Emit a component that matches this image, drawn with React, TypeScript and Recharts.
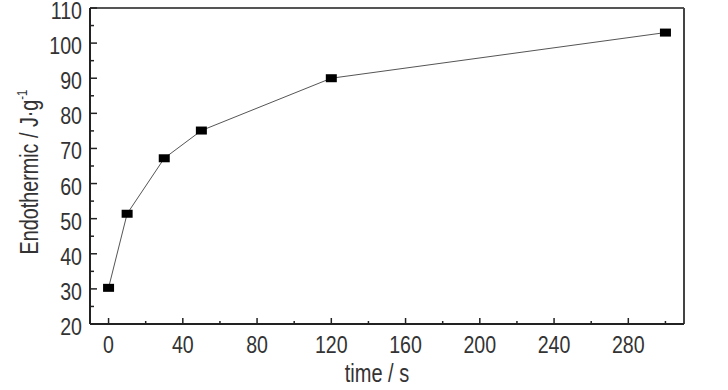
import React from 'react';
import { LineChart, Line, XAxis, YAxis, ReferenceLine, Label } from 'recharts';

const times = [0, 10, 30, 50, 120, 300];
const endothermic = [30.3, 51.4, 67.2, 75.1, 90.0, 103.0];
const xMajorTicks = [0, 40, 80, 120, 160, 200, 240, 280];
const xMinorTicks = [20, 60, 100, 140, 180, 220, 260, 300];
const yMajorTicks = [20, 30, 40, 50, 60, 70, 80, 90, 100, 110];
const yMinorTicks = [25, 35, 45, 55, 65, 75, 85, 95, 105];
const xLabel = 'time / s';
const yLabelMain = 'Endothermic / J·g';
const yLabelSup = '-1';

const data = times.map((t, i) => ({ time: t, value: endothermic[i] }));
const xTicks = [...xMajorTicks, ...xMinorTicks].sort((a, b) => a - b);
const yTicks = [...yMajorTicks, ...yMinorTicks].sort((a, b) => a - b);

const FONT = '"Liberation Sans", Arial, sans-serif';
const SX = 0.8;
const TEXT = '#333';
const AXIS = '#222';

const XTick = (props: any) => {
  const { x, y, payload } = props;
  const major = xMajorTicks.includes(payload.value);
  return (
    <g>
      <line x1={x} x2={x} y1={y} y2={y - (major ? 6 : 3)} stroke={AXIS} strokeWidth={1.5} />
      {major && (
        <text
          transform={`translate(${x}, ${y + 28.5}) scale(${SX}, 1)`}
          x={0}
          y={0}
          textAnchor="middle"
          fill={TEXT}
          fontFamily={FONT}
          fontSize={24.5}
        >
          {payload.value}
        </text>
      )}
    </g>
  );
};

const YTick = (props: any) => {
  const { x, y, payload } = props;
  const major = yMajorTicks.includes(payload.value);
  return (
    <g>
      <line x1={x} x2={x + (major ? 7 : 4)} y1={y} y2={y} stroke={AXIS} strokeWidth={1.5} />
      {major && (
        <text
          transform={`translate(${x - 8}, ${y + 11}) scale(${SX}, 1)`}
          x={0}
          y={0}
          textAnchor="end"
          fill={TEXT}
          fontFamily={FONT}
          fontSize={24.5}
        >
          {payload.value}
        </text>
      )}
    </g>
  );
};

const Marker = (props: any) => {
  const { cx, cy, index } = props;
  return <rect key={`m-${index}`} x={cx - 5.5} y={cy - 4} width={11} height={8} fill="#000" />;
};

const YLabel = (props: any) => {
  const vb = props.viewBox || {};
  const cy = (vb.y ?? 0) + (vb.height ?? 0) / 2 + 6;
  const cx = 38;
  return (
    <text
      transform={`translate(${cx}, ${cy}) rotate(-90) scale(0.76, 1)`}
      x={0}
      y={0}
      textAnchor="middle"
      fill={TEXT}
      fontFamily={FONT}
      fontSize={26}
    >
      {yLabelMain}
      <tspan fontSize={15} dy={-11}>{yLabelSup}</tspan>
    </text>
  );
};

const XLabel = (props: any) => {
  const vb = props.viewBox || {};
  const cx = (vb.x ?? 0) + (vb.width ?? 0) / 2 - 10;
  return (
    <text
      transform={`translate(${cx}, 382) scale(0.8, 1)`}
      x={0}
      y={0}
      textAnchor="middle"
      fill={TEXT}
      fontFamily={FONT}
      fontSize={25}
    >
      {xLabel}
    </text>
  );
};

export default function App() {
  return (
    <div style={{ position: 'absolute', left: 0, top: 0, width: 728, height: 390, background: '#fff' }}>
      <LineChart width={728} height={390} data={data} margin={{ top: 8, right: 44, left: 0, bottom: 0 }}>
        <XAxis
          type="number"
          dataKey="time"
          domain={[-10, 310]}
          ticks={xTicks}
          interval={0}
          tickLine={false}
          tickSize={0}
          tickMargin={0}
          height={66}
          axisLine={{ stroke: AXIS, strokeWidth: 2 }}
          tick={<XTick />}
        >
          <Label content={<XLabel />} />
        </XAxis>
        <YAxis
          type="number"
          domain={[20, 110]}
          ticks={yTicks}
          interval={0}
          tickLine={false}
          tickSize={0}
          tickMargin={0}
          width={90}
          axisLine={{ stroke: AXIS, strokeWidth: 2 }}
          tick={<YTick />}
        >
          <Label content={<YLabel />} />
        </YAxis>
        <ReferenceLine y={110} stroke="#555" strokeWidth={2} />
        <ReferenceLine x={310} stroke="#444" strokeWidth={2} />
        <Line
          type="linear"
          dataKey="value"
          stroke="#555"
          strokeWidth={1}
          dot={<Marker />}
          isAnimationActive={false}
        />
      </LineChart>
    </div>
  );
}
